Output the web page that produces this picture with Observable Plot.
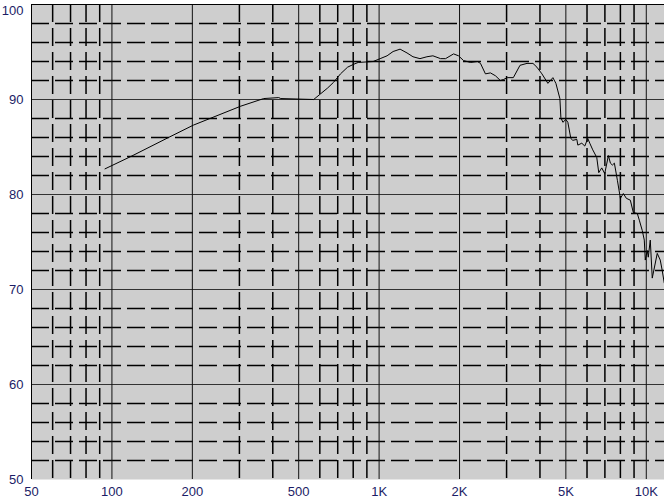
<!DOCTYPE html>
<html><head><meta charset="utf-8">
<script src="https://cdn.jsdelivr.net/npm/d3@7"></script>
<script src="https://cdn.jsdelivr.net/npm/@observablehq/plot@0.6"></script>
<style>body{margin:0;background:#fff;}</style>
</head><body><div id="chart"></div>
<script>
const freq = [94.2,117.7,162.8,201.7,303.7,370,421,428.5,569,604,641,675,717,762,802,835,950,1009,1071,1128,1198,1272,1339,1422,1510,1590,1699,1773,1900,1983,2070,2198,2334,2396,2500,2610,2725,2844,2918,3021,3180,3368,3577,3766,3897,4068,4283,4472,4589,4668,4749,4790,4873,5000,5087,5219,5310,5496,5543,5736,5886,6040,6145,6305,6526,6639,6812,6990,7215,7340,7467,7596,7795,7999,8207,8421,8716,8943,9256,9417,9662,9830,9914,10086,10173,10350,10529,10991,11278,11473,11672];
const spl = [82.7,84.0,86.0,87.3,89.3,90.1,90.2,90.1,90.0,90.6,91.2,91.8,92.7,93.4,93.7,93.9,94.0,94.3,94.6,95.05,95.3,94.9,94.5,94.3,94.5,94.6,94.3,94.3,94.8,94.6,94.1,93.9,94.0,93.8,92.7,92.8,92.5,92.0,92.1,92.3,92.3,93.6,93.8,93.8,93.4,92.7,91.7,92.3,91.7,90.9,90.1,88.1,87.6,87.9,87.6,85.9,85.7,85.8,85.2,85.4,85.1,85.9,85.4,84.7,83.9,82.3,82.8,82.2,84.1,83.3,83.1,83.3,81.5,79.6,80.1,79.6,79.4,78.1,78.0,77.3,76.2,75.2,73.1,74.1,73.4,75.2,71.2,73.8,73.1,72.0,70.7];
const xTicks = [50,100,200,500,1000,2000,5000,10000];
const xTickLabels = ["50","100","200","500","1K","2K","5K","10K"];
const yTicks = [50,60,70,80,90,100];
const yTickLabels = ["50","60","70","80","90","100"];
const majorFreqs = [100,200,500,1000,2000,5000,10000];
const minorFreqs = [60,70,80,90,300,400,600,700,800,900,3000,4000,6000,7000,8000,9000];
const majorDb = [60,70,80,90];
const minorDb = [52,54,56,58,62,64,66,68,72,74,76,78,82,84,86,88,92,94,96,98];

const data = freq.map((f, i) => ({f, db: spl[i]}));
const xLab = xTicks.map((f, i) => ({f, label: xTickLabels[i]}));
const yLab = yTicks.map((v, i) => ({v, label: yTickLabels[i]}));

const chart = Plot.plot({
  width: 664, height: 502,
  marginLeft: 31, marginRight: 0, marginTop: 4, marginBottom: 23,
  style: {fontFamily: "Arial, 'Liberation Sans', sans-serif", fontSize: "13px", background: "white", overflow: "visible"},
  x: {type: "log", domain: [50, 11700], label: null, axis: null},
  y: {domain: [50, 100], label: null, axis: null},
  marks: [
    Plot.frame({fill: "#cccccc"}),
    Plot.ruleY(minorDb, {stroke: "#000", strokeWidth: 1.5, strokeDasharray: "18,6"}),
    Plot.ruleX(minorFreqs, {stroke: "#000", strokeWidth: 1.5, strokeDasharray: "18,6"}),
    Plot.ruleY(majorDb, {stroke: "#333", strokeWidth: 1}),
    Plot.ruleX(majorFreqs, {stroke: "#111", strokeWidth: 1}),
    Plot.line(data, {x: "f", y: "db", stroke: "#000", strokeWidth: 1}),
    Plot.ruleX([50], {stroke: "#000"}),
    Plot.ruleY([100], {stroke: "#000"}),
    Plot.text(xLab, {x: "f", y: () => 50, text: "label", dy: 12, fill: "#1c1c66", fontSize: 13}),
    Plot.text(yLab, {x: () => 50, y: "v", text: "label", dx: -8, textAnchor: "end", fill: "#1c1c66", fontSize: 13})
  ]
});

// dotted background pattern
const ns = "http://www.w3.org/2000/svg";
const defs = document.createElementNS(ns, "defs");
defs.innerHTML = '<pattern id="dots" width="2" height="2" patternUnits="userSpaceOnUse"><rect width="2" height="2" fill="#dcdcdc"/><rect width="1" height="1" fill="#a4a4a4"/></pattern>';
chart.insertBefore(defs, chart.firstChild);
const fr = chart.querySelector('[aria-label="frame"]');
const rect = fr && (fr.tagName === "rect" ? fr : fr.querySelector("rect"));
if (rect) rect.setAttribute("fill", "url(#dots)");
// nudge the top "100" label slightly so it is not cut at the page edge
const yTexts = chart.querySelectorAll('[aria-label="text"]')[1];
if (yTexts) {
  const all = yTexts.querySelectorAll("text");
  const t = all[all.length - 1];
  if (t) t.setAttribute("dy", "0.45em");
}

document.getElementById("chart").appendChild(chart);
</script>
</body></html>
